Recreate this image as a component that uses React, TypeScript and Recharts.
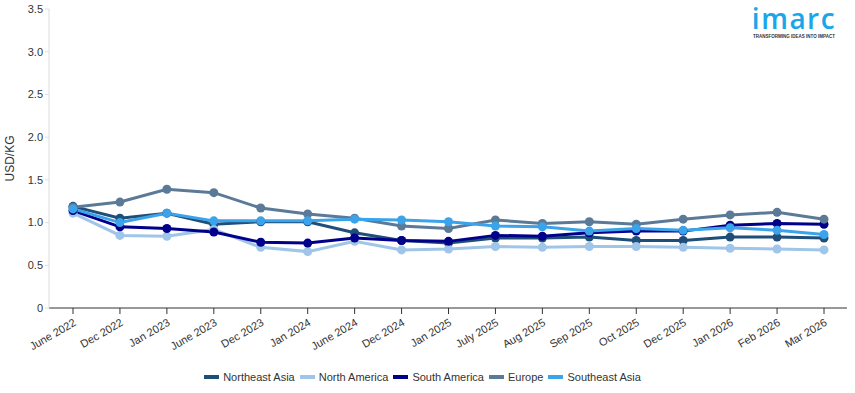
import { LineChart, Line, XAxis, YAxis } from "recharts";

const periods = [
  "June 2022", "Dec 2022", "Jan 2023", "June 2023", "Dec 2023", "Jan 2024",
  "June 2024", "Dec 2024", "Jan 2025", "July 2025", "Aug 2025", "Sep 2025",
  "Oct 2025", "Dec 2025", "Jan 2026", "Feb 2026", "Mar 2026",
];

const northeastAsia = [1.19, 1.05, 1.11, 0.98, 1.01, 1.01, 0.88, 0.79, 0.76, 0.82, 0.82, 0.83, 0.79, 0.79, 0.83, 0.83, 0.82];
const northAmerica = [1.11, 0.85, 0.84, 0.92, 0.71, 0.66, 0.78, 0.68, 0.69, 0.72, 0.71, 0.72, 0.72, 0.71, 0.7, 0.69, 0.68];
const southAmerica = [1.14, 0.95, 0.93, 0.89, 0.77, 0.76, 0.82, 0.79, 0.78, 0.85, 0.84, 0.88, 0.9, 0.9, 0.97, 0.99, 0.98];
const europe = [1.18, 1.24, 1.39, 1.35, 1.17, 1.1, 1.05, 0.96, 0.93, 1.03, 0.99, 1.01, 0.98, 1.04, 1.09, 1.12, 1.04];
const southeastAsia = [1.16, 1.0, 1.11, 1.02, 1.02, 1.02, 1.04, 1.03, 1.01, 0.96, 0.95, 0.9, 0.93, 0.91, 0.94, 0.91, 0.86];

const yTicks = [0, 0.5, 1, 1.5, 2, 2.5, 3, 3.5];

const series = [
  { key: "northeastAsia", name: "Northeast Asia", color: "#1f4e79" },
  { key: "northAmerica", name: "North America", color: "#9fc5e8" },
  { key: "southAmerica", name: "South America", color: "#00008b" },
  { key: "europe", name: "Europe", color: "#5b7a98" },
  { key: "southeastAsia", name: "Southeast Asia", color: "#3ba3ea" },
];

const data = periods.map((p, i) => ({
  period: p,
  northeastAsia: northeastAsia[i],
  northAmerica: northAmerica[i],
  southAmerica: southAmerica[i],
  europe: europe[i],
  southeastAsia: southeastAsia[i],
}));

const font = "'Liberation Sans', Arial, sans-serif";

export default function App() {
  return (
    <div style={{ position: "absolute", left: 0, top: 0, width: 855, height: 393, fontFamily: font, background: "#fff" }}>
      <LineChart width={855} height={393} data={data} margin={{ top: 9, right: 8, bottom: 30, left: 0 }}>
        <XAxis
          dataKey="period"
          interval={0}
          padding={{ left: 24, right: 23 }}
          height={55}
          stroke="#333"
          tickSize={6}
          angle={-30}
          textAnchor="end"
          tick={{ fill: "#333", fontSize: 11, fontFamily: font, dy: 2 }}
        />
        <YAxis
          width={49}
          domain={[0, 3.5]}
          ticks={yTicks}
          tickSize={4}
          stroke="#ddd"
          tickFormatter={(v: number) => (v === 0 ? "0" : v.toFixed(1))}
          tick={{ fill: "#333", fontSize: 11, fontFamily: font }}
          label={{ value: "USD/KG", angle: -90, position: "insideLeft", dx: 5, fill: "#333", fontSize: 12, fontFamily: font, style: { textAnchor: "middle" } }}
        />
        {series.map((s) => (
          <Line
            key={s.key}
            dataKey={s.key}
            name={s.name}
            stroke={s.color}
            strokeWidth={3}
            dot={{ r: 4.5, fill: s.color, stroke: s.color, strokeWidth: 0 }}
            isAnimationActive={false}
          />
        ))}
      </LineChart>
      <div style={{ position: "absolute", left: 0, top: 371, width: 850, display: "flex", justifyContent: "center", fontSize: 11, color: "#333" }}>
        {series.map((s) => (
          <div key={s.key} style={{ display: "flex", alignItems: "center", marginRight: 5 }}>
            <span style={{ display: "inline-block", width: 15, height: 4, background: s.color, marginRight: 4 }} />
            <span>{s.name}</span>
          </div>
        ))}
      </div>
      <div style={{ position: "absolute", left: 748, top: 3, width: 92, height: 31, textAlign: "center", color: "#1aa6e8", fontSize: 28, fontWeight: 600, lineHeight: "31px", letterSpacing: 1.5, fontFamily: "'Open Sans', sans-serif" }}>
        imarc
      </div>
      <div style={{ position: "absolute", left: 748, top: 35, width: 92, textAlign: "center", fontSize: 4.5, fontWeight: 700, color: "#333", whiteSpace: "nowrap", lineHeight: "4px" }}>
        TRANSFORMING IDEAS INTO IMPACT
      </div>
    </div>
  );
}
